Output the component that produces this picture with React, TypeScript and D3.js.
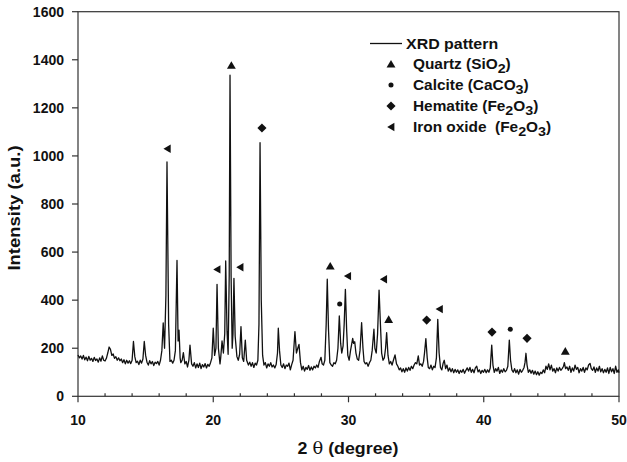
import React from "react";
import * as d3 from "d3";

// XRD pattern: [2θ (degree), intensity (a.u.)]
const xrdPattern: [number, number][] = [
  [10.0,172],[10.1,160],[10.2,168],[10.3,155],[10.4,170],[10.5,152],[10.6,163],[10.7,148],[10.8,166],[10.9,150],
  [11.0,158],[11.1,145],[11.2,162],[11.3,149],[11.4,155],[11.5,142],[11.6,160],[11.7,146],[11.8,168],[11.9,150],
  [12.0,147],[12.1,158],[12.2,180],[12.3,205],[12.4,195],[12.5,170],[12.6,176],[12.7,158],[12.8,165],[12.9,150],
  [13.0,160],[13.1,148],[13.2,155],[13.3,140],[13.4,152],[13.5,135],[13.6,150],[13.7,138],[13.8,148],[13.9,136],
  [14.0,150],[14.1,228],[14.2,165],[14.3,140],[14.4,146],[14.5,132],[14.6,150],[14.7,138],[14.8,155],[14.9,228],
  [15.0,170],[15.1,142],[15.2,130],[15.3,148],[15.4,135],[15.5,145],[15.6,128],[15.7,142],[15.8,136],[15.9,145],
  [16.0,130],[16.1,150],[16.2,190],[16.3,305],[16.4,200],[16.5,420],[16.58,975],[16.7,300],[16.8,145],[16.9,150],
  [17.0,138],[17.1,150],[17.2,190],[17.32,565],[17.4,230],[17.47,275],[17.55,160],[17.6,140],[17.7,150],[17.79,182],
  [17.9,135],[18.0,145],[18.1,122],[18.2,150],[18.28,213],[18.4,135],[18.5,125],[18.6,140],[18.7,118],[18.8,135],
  [18.9,120],[19.0,138],[19.1,115],[19.2,132],[19.3,122],[19.4,136],[19.5,118],[19.6,133],[19.7,125],[19.8,140],
  [19.9,160],[20.0,283],[20.1,170],[20.2,200],[20.28,466],[20.38,200],[20.5,135],[20.55,160],[20.65,230],[20.75,180],
  [20.85,260],[20.92,563],[21.02,270],[21.1,175],[21.18,500],[21.24,1336],[21.32,500],[21.4,200],[21.46,260],[21.53,491],
  [21.62,250],[21.75,165],[21.85,150],[21.95,175],[22.05,290],[22.15,160],[22.25,145],[22.37,234],[22.47,150],[22.6,130],
  [22.7,142],[22.8,125],[22.9,140],[23.0,120],[23.1,138],[23.2,130],[23.3,150],[23.38,300],[23.46,1055],[23.55,400],
  [23.65,170],[23.75,130],[23.85,140],[23.95,118],[24.05,135],[24.15,125],[24.25,140],[24.35,122],[24.45,130],[24.55,118],
  [24.65,132],[24.75,180],[24.81,283],[24.9,190],[25.0,130],[25.1,120],[25.2,135],[25.3,115],[25.4,130],[25.5,125],
  [25.6,138],[25.7,110],[25.8,132],[25.9,150],[26.04,269],[26.15,180],[26.25,200],[26.34,216],[26.45,140],[26.55,110],
  [26.65,125],[26.75,105],[26.85,120],[26.95,112],[27.05,128],[27.15,108],[27.25,122],[27.35,110],[27.45,125],[27.55,118],
  [27.65,130],[27.75,120],[27.85,145],[27.97,162],[28.05,135],[28.15,130],[28.25,150],[28.35,300],[28.43,487],[28.52,280],
  [28.62,140],[28.72,130],[28.82,125],[28.92,140],[29.02,135],[29.12,150],[29.22,200],[29.32,334],[29.42,220],[29.5,180],
  [29.6,210],[29.68,300],[29.77,445],[29.86,280],[29.95,170],[30.05,150],[30.15,190],[30.31,241],[30.38,220],[30.46,227],
  [30.55,180],[30.65,155],[30.75,150],[30.85,190],[30.97,306],[31.07,200],[31.15,145],[31.25,135],[31.35,140],[31.45,125],
  [31.55,140],[31.65,150],[31.75,190],[31.88,279],[31.95,200],[32.05,180],[32.15,260],[32.26,442],[32.36,300],[32.45,180],
  [32.55,150],[32.65,160],[32.74,200],[32.82,265],[32.92,170],[33.02,135],[33.12,145],[33.22,130],[33.32,150],[33.44,172],
  [33.55,135],[33.65,125],[33.75,110],[33.85,118],[33.95,102],[34.05,115],[34.15,100],[34.25,118],[34.35,105],[34.45,120],
  [34.55,108],[34.65,125],[34.75,115],[34.85,130],[34.95,140],[35.05,135],[35.16,168],[35.25,130],[35.35,135],[35.45,125],
  [35.55,145],[35.62,180],[35.72,240],[35.82,160],[35.9,120],[36.0,115],[36.1,130],[36.2,110],[36.3,125],[36.4,120],
  [36.5,160],[36.6,320],[36.7,180],[36.8,120],[36.9,110],[37.0,138],[37.08,150],[37.18,115],[37.28,130],[37.38,105],
  [37.48,118],[37.58,102],[37.68,115],[37.78,98],[37.88,112],[37.98,100],[38.08,110],[38.18,95],[38.28,108],[38.38,100],
  [38.48,112],[38.58,96],[38.68,108],[38.78,118],[38.88,105],[38.98,120],[39.08,100],[39.18,112],[39.28,98],[39.38,118],
  [39.48,125],[39.58,102],[39.68,110],[39.78,95],[39.88,108],[39.98,100],[40.08,112],[40.18,98],[40.28,110],[40.38,100],
  [40.48,118],[40.59,213],[40.68,130],[40.78,100],[40.88,115],[40.98,105],[41.08,120],[41.18,95],[41.28,110],[41.38,100],
  [41.48,115],[41.58,102],[41.68,108],[41.78,125],[41.89,234],[41.98,150],[42.08,110],[42.18,100],[42.28,115],[42.38,98],
  [42.48,110],[42.58,92],[42.68,112],[42.78,100],[42.88,108],[42.98,120],[43.05,140],[43.12,179],[43.2,130],[43.3,100],
  [43.4,110],[43.5,96],[43.6,108],[43.7,92],[43.8,105],[43.9,90],[44.0,102],[44.1,88],[44.2,100],[44.3,95],
  [44.4,110],[44.5,98],[44.6,125],[44.7,112],[44.8,135],[44.9,110],[45.0,130],[45.1,105],[45.2,115],[45.3,98],
  [45.4,118],[45.5,105],[45.6,120],[45.7,108],[45.8,115],[45.9,125],[45.96,140],[46.05,115],[46.15,122],[46.25,108],
  [46.35,125],[46.45,100],[46.55,118],[46.65,105],[46.75,130],[46.85,112],[46.95,120],[47.05,98],[47.15,115],[47.25,105],
  [47.35,120],[47.45,100],[47.55,118],[47.65,110],[47.75,130],[47.86,137],[47.95,115],[48.05,108],[48.15,122],[48.25,100],
  [48.35,118],[48.45,105],[48.55,125],[48.65,102],[48.75,115],[48.85,98],[48.95,112],[49.05,100],[49.15,118],[49.25,95],
  [49.35,120],[49.45,102],[49.55,115],[49.65,95],[49.75,125],[49.85,100],[49.95,110],[50.0,98],
];

// Phase markers: [2θ, intensity position]
const quartzMarks: [number, number][] = [[21.34,1377],[28.65,542],[32.97,320],[46.03,188]];
const calciteMarks: [number, number][] = [[29.35,384],[41.96,279]];
const hematiteMarks: [number, number][] = [[23.6,1116],[35.78,317],[40.61,267],[43.2,241]];
const ironOxideMarks: [number, number][] = [[16.6,1030],[20.28,528],[21.98,537],[29.94,500],[32.6,487],[36.72,363]];

const xMajorTicks = [10, 20, 30, 40, 50];
const xMinorTicks = [12, 14, 16, 18, 22, 24, 26, 28, 32, 34, 36, 38, 42, 44, 46, 48];
const yTicks = [0, 200, 400, 600, 800, 1000, 1200, 1400, 1600];

const W = 627, H = 462;
const L = 78, R = 619, T = 11.7, B = 396.3;
const FONT = "'Liberation Sans', Arial, sans-serif";
const INK = "#111";

const x = d3.scaleLinear().domain([10, 50]).range([L, R]);
const y = d3.scaleLinear().domain([0, 1600]).range([B, T]);

const sym = {
  up: d3.symbol().type(d3.symbolTriangle).size(34),
  circle: d3.symbol().type(d3.symbolCircle).size(20),
  diamond: d3.symbol().type(d3.symbolSquare).size(42),
  left: d3.symbol().type(d3.symbolTriangle).size(30),
};

function Marker({ kind, cx, cy }: { kind: string; cx: number; cy: number }) {
  if (kind === "up") return <path d={sym.up()!} transform={`translate(${cx},${cy + 1})`} fill={INK} />;
  if (kind === "circle") return <path d={sym.circle()!} transform={`translate(${cx},${cy})`} fill={INK} />;
  if (kind === "diamond") return <path d={sym.diamond()!} transform={`translate(${cx},${cy}) rotate(45)`} fill={INK} />;
  return <path d={sym.left()!} transform={`translate(${cx + 1},${cy}) rotate(-90)`} fill={INK} />;
}

export default function App() {
  const line = d3.line<[number, number]>().x((d) => x(d[0])).y((d) => y(d[1]));
  const groups: { kind: string; data: [number, number][] }[] = [
    { kind: "up", data: quartzMarks },
    { kind: "circle", data: calciteMarks },
    { kind: "diamond", data: hematiteMarks },
    { kind: "left", data: ironOxideMarks },
  ];
  const legendRows: { kind: string; parts: string[] }[] = [
    { kind: "up", parts: ["Quartz (SiO", "2", ")"] },
    { kind: "circle", parts: ["Calcite (CaCO", "3", ")"] },
    { kind: "diamond", parts: ["Hematite (Fe", "2", "O", "3", ")"] },
    { kind: "left", parts: ["Iron oxide \u00a0(Fe", "2", "O", "3", ")"] },
  ];
  return (
    <svg width={W} height={H} style={{ position: "absolute", left: 0, top: 0, background: "#fff" }} fontFamily={FONT}>
      <rect x={0} y={0} width={W} height={H} fill="#fff" />
      {/* frame */}
      <rect x={L} y={T} width={R - L} height={B - T} fill="none" stroke="#333" strokeWidth={1.2} />
      {/* data line */}
      <path d={line(xrdPattern)!} fill="none" stroke={INK} strokeWidth={1.3} strokeLinejoin="round" />
      {/* markers */}
      {groups.map((g) =>
        g.data.map((d, i) => <Marker key={g.kind + i} kind={g.kind} cx={x(d[0])} cy={y(d[1])} />)
      )}
      {/* x axis ticks */}
      {xMajorTicks.map((t) => (
        <g key={"xm" + t}>
          <line x1={x(t)} x2={x(t)} y1={B} y2={B + 6} stroke="#333" strokeWidth={1.2} />
          <text x={x(t)} y={425} textAnchor="middle" fontSize={14} fontWeight="bold" fill={INK}>{t}</text>
        </g>
      ))}
      {xMinorTicks.map((t) => (
        <line key={"xn" + t} x1={x(t)} x2={x(t)} y1={B} y2={B - 3} stroke="#333" strokeWidth={1.2} />
      ))}
      {/* y axis ticks */}
      {yTicks.map((t) => (
        <g key={"y" + t}>
          <line x1={L - 6} x2={L} y1={y(t)} y2={y(t)} stroke="#333" strokeWidth={1.2} />
          <text x={64} y={y(t) + 5} textAnchor="end" fontSize={14} fontWeight="bold" fill={INK}>{t}</text>
        </g>
      ))}
      {/* axis titles */}
      <text transform="translate(348,454) scale(1.08,1)" textAnchor="middle" fontSize={16.5} fontWeight="bold" fill={INK}>
        2 <tspan fontFamily="'DejaVu Serif', 'Liberation Serif', serif" fontWeight="normal">θ</tspan> (degree)
      </text>
      <text transform={`translate(20,208) rotate(-90) scale(1.12,1)`} textAnchor="middle" fontSize={16.5} fontWeight="bold" fill={INK}>
        Intensity (a.u.)
      </text>
      {/* legend */}
      <line x1={370} x2={402} y1={43.5} y2={43.5} stroke={INK} strokeWidth={1.3} />
      <text transform="translate(406,48.5) scale(1.14,1)" fontSize={14} fontWeight="bold" fill={INK}>XRD pattern</text>
      {legendRows.map((r, i) => {
        const cy = 64 + i * 21;
        const [a, s1, b, s2, c] = r.parts;
        return (
          <g key={"lg" + i}>
            <Marker kind={r.kind} cx={391} cy={cy} />
            <text transform={`translate(413,${cy + 5}) scale(1.1,1)`} fontSize={14} fontWeight="bold" fill={INK}>
              {a}
              <tspan dy={4} fontSize={13}>{s1}</tspan>
              <tspan dy={-4}>{b}</tspan>
              {s2 !== undefined && <tspan dy={4} fontSize={13}>{s2}</tspan>}
              {c !== undefined && <tspan dy={-4}>{c}</tspan>}
            </text>
          </g>
        );
      })}
    </svg>
  );
}
